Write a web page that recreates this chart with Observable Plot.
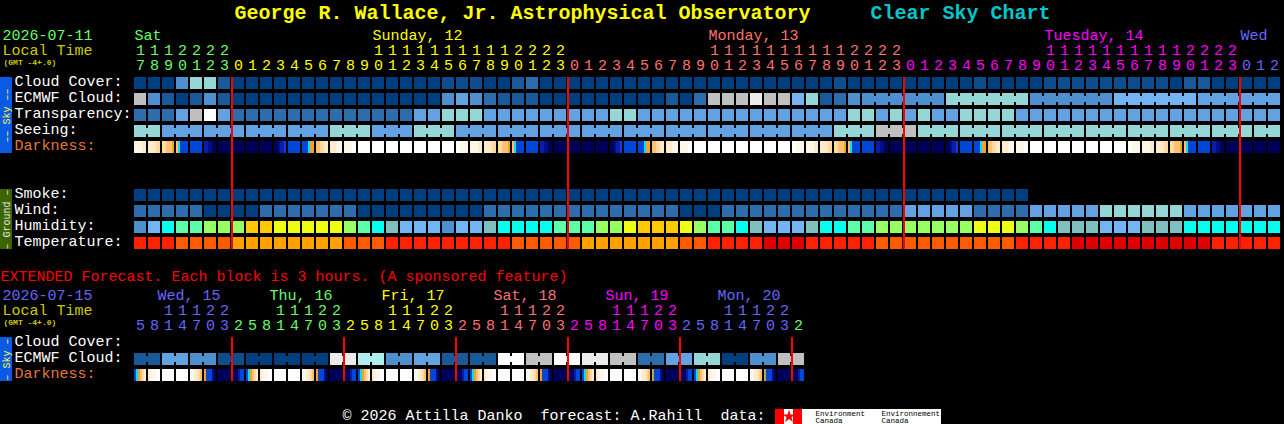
<!DOCTYPE html>
<html>
<head>
<meta charset="utf-8">
<title>Clear Sky Chart</title>
<style>
html,body{margin:0;padding:0;background:#000;overflow:hidden}
svg{display:block}
</style>
<script src="https://cdn.jsdelivr.net/npm/d3@7"></script>
<script src="https://cdn.jsdelivr.net/npm/@observablehq/plot@0.6"></script>
</head>
<body>
<script>
// ---------- data (one character = one hourly block) ----------
const cloudCover   = "0004772000"+"0000000000"+"0011100230"+"0000000000"+"0000000000"+"1000000000"+"1000011111"+"1111022000"+"00";
const ecmwfCloud   = "9420242000"+"0000000000"+"0045432220"+"0000000020"+"3999a99672"+"3444444477"+"7777444444"+"6666665555"+"55";
const transparency = "33359b5333"+"3333333333"+"5577755555"+"5555775555"+"5555555555"+"5775757557"+"7775555555"+"5555555555"+"55";
const seeing       = "7755555555"+"5555777555"+"7775555555"+"5555555555"+"5555555555"+"7779997777"+"7777777777"+"7777777777"+"77";
const smoke        = "0000000000"+"0000000000"+"0000000000"+"0000000000"+"0000000000"+"0000000000"+"0000";
const wind         = "3333300003"+"3333330000"+"0000033333"+"3333333330"+"0033333333"+"3333355555"+"3333555557"+"7777755555"+"55";
const humidity     = "46cddeeeff"+"gggggedch6"+"66466hcccc"+"dddeegfffg"+"eddch666hc"+"cddeeeeeee"+"gggedchhh6"+"66hhhccccc"+"cc";
const temperature  = "rrroooommm"+"mmmmmooorr"+"rrrrrrrooo"+"oommmmmmmo"+"orrrrRRRrr"+"rrrooooooo"+"ooorrrrRRR"+"RRRRRRRrrr"+"rr";
const darkness = [
  "aaaabb","bbbbcc","ccddde","dCBBBB","BBBBBB","NNnnkk","kkkkkk",
  "kkkkkk","kkkkkk","kkkkkk","kknNNB","BBBBBB","BBBCee","ddccbb","bbbaaa","aaaaww","wwwwww","wwwwww","wwwwww","wwwwww","wwwwww","wwwwww","wwwwww","wwaaaa","aaaabb","bbbbcc","ccddde","dCBBBB","BBBBBB","NNnnkk","kkkkkk",
  "kkkkkk","kkkkkk","kkkkkk","kknNNB","BBBBBB","BBBCee","ddccbb","bbbaaa","aaaaww","wwwwww","wwwwww","wwwwww","wwwwww","wwwwww","wwwwww","wwwwww","wwaaaa","aaaabb","bbbbcc","ccddde","dCBBBB","BBBBBB","NNnnkk","kkkkkk",
  "kkkkkk","kkkkkk","kkkkkk","kknNNB","BBBBBB","BBBCee","ddccbb","bbbaaa","aaaaww","wwwwww","wwwwww","wwwwww","wwwwww","wwwwww","wwwwww","wwwwww","wwaaaa","aaaabb","bbbbcc","ccddde","dCBBBB","BBBBBB","NNnnkk","kkkkkk",
  "kkkkkk","kkkkkk","kkkkkk"
];
const seeingSpans = [2,3,3,3,3,3,3,3,3,3,3,3,3,3,3,3,3,3,3,3,3,3,3,3,3,3,3,2];
const ecmwfSpans  = [[52,6],[58,6],[64,6],[70,6],[76,6]];
const hours = [17,18,19,20,21,22,23,
  0,1,2,3,4,5,6,7,8,9,10,11,12,13,14,15,16,17,18,19,20,21,22,23,
  0,1,2,3,4,5,6,7,8,9,10,11,12,13,14,15,16,17,18,19,20,21,22,23,
  0,1,2,3,4,5,6,7,8,9,10,11,12,13,14,15,16,17,18,19,20,21,22,23,
  0,1,2];
const dayNames  = ["Sat","Sunday, 12","Monday, 13","Tuesday, 14","Wed"];
const dayStarts = [0,7,31,55,79];
const dayLabelCols = [0,17,41,65,79];

// extended forecast: one character = one 3-hour block, merged in pairs
const extCloud = ["2","5","4","1","0","0","0","a","8","4","5","2","2","b","9","b","a","9","3","5","7","0","4","9"];
const extDarkness = [
  "BCedcb","baaaww","wwwwww","wwwwww","aabbcd","eBBBnk","kkkkkk","kkkNBB",
  "BCedcb","baaaww","wwwwww","wwwwww","aabbcd","eBBBnk","kkkkkk","kkkNBB",
  "BCedcb","baaaww","wwwwww","wwwwww","aabbcd","eBBBnk","kkkkkk","kkkNBB",
  "BCedcb","baaaww","wwwwww","wwwwww","aabbcd","eBBBnk","kkkkkk","kkkNBB",
  "BCedcb","baaaww","wwwwww","wwwwww","aabbcd","gBBBnk","kkkkkk","kkkNBB",
  "BCedcb","baaaww","wwwwww","wwwwww","aabbcd","gBBBnk","kkkkkk","kkkNBB"
];
const extHours = [5,8,11,14,17,20,23,
  2,5,8,11,14,17,20,23, 2,5,8,11,14,17,20,23, 2,5,8,11,14,17,20,23,
  2,5,8,11,14,17,20,23, 2,5,8,11,14,17,20,23, 2];
const extDayNames  = ["Wed, 15","Thu, 16","Fri, 17","Sat, 18","Sun, 19","Mon, 20"];
const extDayStarts = [0,7,15,23,31,39,47];
const extDayLabelCols = [0,8,16,24,32,40];
const midnights    = [7,31,55,79];
const extMidnights = [7,15,23,31,39,47];

// ---------- palette ----------
const levelKeys = ["0","1","2","3","4","5","6","7","8","9","a","b","c","d","e","f","g","h","r","o","m","R"];
const levelCols = ["#003f7f","#0d4d8d","#19599a","#2d6cad","#4f8fd0","#63a2e2","#74b3f4","#95d6d6","#afeeee","#c0c0c0","#ebebeb","#ffffff",
                   "#07fdee","#5affa8","#96ff62","#ffc800","#eeff14","#80bfbf","#ff2000","#ff5a00","#ffa000","#e00000"];
const duskKeys = {w:"#ffffff",a:"#fff6ea",b:"#ffeacb",c:"#ffd9a3",d:"#ffc070",e:"#f8a020",g:"#c0a838",C:"#00e0ff",B:"#0046d8",N:"#0a1ca8",n:"#000c88",k:"#00005a"};
const dayCols = ["#66ff66","#ffff00","#ff7070","#ff00ff","#6666ff"];
const extDayCols = ["#6666ff","#66ff66","#ffff00","#ff7070","#ff00ff","#6666ff","#66ff66"];
const MONO = "'Liberation Mono','DejaVu Sans Mono',monospace";

// ---------- layout helpers: the scales work in blocks (x) and rows (y) ----------
const cellW = 12/14, cellH = 12/16;
const col = px => (px-134)/14;
const row = py => (py-77)/16;
const EXT = row(353);   // ECMWF row in the extended forecast

const cells = (s,r) => [...s].map((level,i)=>({i,r,level}));
const cellRows = [
  ...cells(cloudCover,0),...cells(ecmwfCloud,1),...cells(transparency,2),...cells(seeing,3),
  ...cells(smoke,7),...cells(wind,8),...cells(humidity,9),...cells(temperature,10),
  ...extCloud.flatMap((level,p)=>[{i:2*p,r:EXT,level},{i:2*p+1,r:EXT,level}])
];
// bridges join blocks belonging to one forecast step
const bridges = [];
{ let s=0; for(const n of seeingSpans){ for(let k=0;k<n-1;k++) bridges.push({i:s+k,r:3,level:seeing[s]}); s+=n; } }
for(const [s,n] of ecmwfSpans){ for(let k=0;k<n-1;k++) bridges.push({i:s+k,r:1,level:ecmwfCloud[s]}); }
extCloud.forEach((level,p)=>bridges.push({i:2*p,r:EXT,level}));

const strips = (arr,r)=>arr.flatMap((s,i)=>[...s].map((k,j)=>({i,j,r,c:duskKeys[k]})));
const dusk = [...strips(darkness,4),...strips(extDarkness,EXT+1)];

const tag = (starts,colors)=> i => { let d=0; while(d+1<starts.length && i>=starts[d+1]) d++; return colors[d]; };
const digits = (hrs,starts,colors,tensY,onesY)=> hrs.flatMap((h,i)=>{
  const c = tag(starts,colors)(i), out=[{i,y:onesY,t:String(h%10),c}];
  if(h>=10) out.push({i,y:tensY,t:String(Math.floor(h/10)),c});
  return out;
});
const tickDigits = [
  ...digits(hours,dayStarts,dayCols,row(49.5),row(65)),
  ...digits(extHours,extDayStarts,extDayCols,row(309.5),row(325))
];

const rowLabels = [
  ["Cloud Cover:",0,"#fff"],["ECMWF Cloud:",1,"#fff"],["Transparency:",2,"#fff"],["Seeing:",3,"#fff"],["Darkness:",4,"#e07a3a"],
  ["Smoke:",7,"#fff"],["Wind:",8,"#fff"],["Humidity:",9,"#fff"],["Temperature:",10,"#fff"],
  ["Cloud Cover:",EXT-1,"#fff"],["ECMWF Cloud:",EXT,"#fff"],["Darkness:",EXT+1,"#e07a3a"]
].map(([t,r,c])=>({t,r:r+cellH/3,c}));   // labels sit slightly above the middle of their row

const label = (t,xPx,yPx,c,size,weight="normal",extra={}) =>
  Plot.text([t],{x:()=>col(xPx),y:()=>row(yPx),text:d=>d,fill:c,fontSize:size,fontWeight:weight,fontFamily:MONO,textAnchor:"start",...extra});
const box = (x1,x2,y1,y2,c) =>
  Plot.rect([0],{x1:()=>col(x1),x2:()=>col(x2),y1:()=>row(y1),y2:()=>row(y2),fill:c,shapeRendering:"crispEdges"});
const tabText = (t,xPx,yPx,c) =>
  Plot.text([t],{x:()=>col(xPx),y:()=>row(yPx),text:d=>d,fill:c,fontSize:10,fontFamily:MONO,rotate:-90,textAnchor:"middle"});

const chart = Plot.plot({
  width:1284,height:424,margin:0,
  style:{background:"#000",fontFamily:MONO},
  x:{domain:[col(0),col(1284)],range:[0,1284],axis:null},
  y:{domain:[row(0),row(424)],range:[0,424],axis:null},
  color:{type:"ordinal",domain:levelKeys,range:levelCols},
  marks:[
    // titles
    label("George R. Wallace, Jr. Astrophysical Observatory",234,12,"#ffff00",20,"bold"),
    label("Clear Sky Chart",870,12,"#00c8c8",20,"bold"),
    label("2026-07-11",2,34.5,"#66ff66",15),
    label("Local Time",2,49.5,"#cccc00",15),
    label("(GMT -4+.0)",3,61.5,"#cccc00",8,"bold"),
    label("EXTENDED Forecast. Each block is 3 hours. (A sponsored feature)",0,275.5,"#ff0000",15),
    label("2026-07-15",2,294.5,"#6666ff",15),
    label("Local Time",2,309.5,"#cccc00",15),
    label("(GMT -4+.0)",3,321.5,"#cccc00",8,"bold"),
    label("© 2026 Attilla Danko  forecast: A.Rahill  data:",342,415,"#ffffff",15),
    // day names
    Plot.text(dayNames,{x:(d,i)=>dayLabelCols[i],y:()=>row(34.5),text:d=>d,fill:{value:(d,i)=>dayCols[i],scale:null},
      fontSize:15,fontFamily:MONO,textAnchor:"start"}),
    Plot.text(extDayNames,{x:(d,i)=>extDayLabelCols[i]+col(157),y:()=>row(294.5),text:d=>d,fill:{value:(d,i)=>extDayCols[i],scale:null},
      fontSize:15,fontFamily:MONO,textAnchor:"start"}),
    // hour digits
    Plot.text(tickDigits,{x:d=>d.i+cellW/2,y:"y",text:"t",fill:{value:"c",scale:null},fontSize:15,fontFamily:MONO,textAnchor:"middle"}),
    // row labels
    Plot.text(rowLabels,{frameAnchor:"left",dx:14,y:"r",text:"t",fill:{value:"c",scale:null},fontSize:15,fontFamily:MONO,textAnchor:"start"}),
    // side tabs
    box(0,12,77,153,"#0a5ae6"),
    box(0,12,189,249,"#3c6400"),
    box(0,12,337,381,"#0a5ae6"),
    tabText("–– Sky ––",6,115,"#ffff33"),
    tabText("– Ground –",6,219,"#e8e8e8"),
    tabText("– Sky –",6,359,"#ffff33"),
    // forecast blocks
    Plot.rect(cellRows,{x1:"i",x2:d=>d.i+cellW,y1:"r",y2:d=>d.r+cellH,fill:"level",shapeRendering:"crispEdges"}),
    Plot.rect(bridges,{x1:d=>d.i+cellW,x2:d=>d.i+1,y1:d=>d.r+cellH/4,y2:d=>d.r+cellH*3/4,fill:"level",shapeRendering:"crispEdges"}),
    Plot.rect(dusk,{x1:d=>d.i+d.j*cellW/6,x2:d=>d.i+(d.j+1)*cellW/6,y1:"r",y2:d=>d.r+cellH,fill:{value:"c",scale:null},shapeRendering:"crispEdges"}),
    // midnight rules
    Plot.ruleX(midnights,{x:d=>d,y1:0,y2:10+cellH,stroke:"#ff0000",strokeWidth:2,dx:-0.5,shapeRendering:"crispEdges"}),
    Plot.ruleX(extMidnights,{x:d=>d,y1:EXT-1,y2:EXT+1+cellH,stroke:"#ff0000",strokeWidth:2,dx:-0.5,shapeRendering:"crispEdges"}),
    // data logo
    box(775,784,409,424,"#ff0000"),
    box(784,793,409,424,"#ffffff"),
    box(793,802,409,424,"#ff0000"),
    box(802,941,409,424,"#ffffff"),
    Plot.dot([0],{x:()=>col(788.5),y:()=>row(416),symbol:"star",r:4,fill:"#ff0000"}),
    label("Environment",815,413,"#000",7.5),
    label("Canada",815,420,"#000",7.5),
    label("Environnement",881,413,"#000",7.5),
    label("Canada",881,420,"#000",7.5)
  ]
});
document.body.appendChild(chart);
</script>
</body>
</html>
